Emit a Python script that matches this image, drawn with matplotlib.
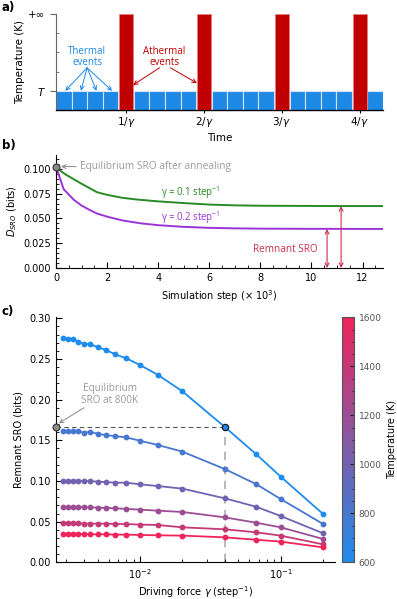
import numpy as np
import matplotlib
matplotlib.use("Agg")
import matplotlib.pyplot as plt
from matplotlib.colors import LinearSegmentedColormap, Normalize
from matplotlib.ticker import MultipleLocator, NullFormatter, FormatStrFormatter, FixedLocator

plt.rcParams['font.family'] = ['DejaVu Sans']
plt.rcParams['font.size'] = 7
plt.rcParams['mathtext.fontset'] = 'dejavusans'

ANN = ['Open Sans', 'DejaVu Sans']

# ---------------- data ----------------
# panel a: schedule (time in units of 1/gamma)
athermal_times = [1, 2, 3, 4]
thermal_times = [0.2, 0.4, 0.6, 0.8, 1.2, 1.4, 1.6, 1.8, 2.2, 2.4, 2.6, 2.8,
                 3.2, 3.4, 3.6, 3.8, 4.2]
thermal_level = 1      # T
athermal_level = 5     # +inf
a_xticklabels = [r'1/$\gamma$', r'2/$\gamma$', r'3/$\gamma$', r'4/$\gamma$']

# panel b: D_SRO vs simulation step (x 10^3)
steps_g01 = [0, 0.2, 0.4, 0.7, 1.0, 1.3, 1.6, 2.0, 2.6, 3.2, 4.0, 5.0, 6.0, 7.0,
             8.0, 9.0, 10.0, 11.0, 12.0, 12.8]
dsro_g01 = [0.1023, 0.0975, 0.0940, 0.0895, 0.0850, 0.0808, 0.0765, 0.0738,
            0.0708, 0.0690, 0.0672, 0.0655, 0.0640, 0.0632, 0.0628, 0.0627,
            0.0626, 0.0625, 0.0625, 0.0625]
steps_g02 = [0, 0.3, 0.7, 1.0, 1.3, 1.6, 2.0, 2.6, 3.3, 4.0, 5.0, 6.0, 7.0, 8.0,
             9.0, 10.0, 11.0, 12.0, 12.8]
dsro_g02 = [0.1023, 0.0795, 0.0687, 0.0630, 0.0588, 0.0550, 0.0518, 0.0480,
            0.0451, 0.0432, 0.0415, 0.0405, 0.0400, 0.0397, 0.0396, 0.0395,
            0.0395, 0.0394, 0.0394]
eq_sro_anneal = 0.1023
remnant_g01 = 0.0625
remnant_g02 = 0.0394

# panel c: remnant SRO vs driving force
gamma = [1/350, 1/325, 1/300, 1/275, 1/250, 1/225, 1/200, 1/175, 1/150, 1/125,
         1/100, 1/75, 1/50, 1/25, 1/15, 1/10, 1/5]
temperatures = [600, 800, 1000, 1200, 1400, 1600]
sro_600 = [0.2754, 0.2746, 0.2749, 0.2712, 0.2688, 0.2680, 0.2647, 0.2611, 0.2557,
           0.2508, 0.2426, 0.2307, 0.2103, 0.1665, 0.1332, 0.1053, 0.0594]
sro_800 = [0.1618, 0.1614, 0.1610, 0.1610, 0.1595, 0.1603, 0.1580, 0.1564, 0.1552,
           0.1536, 0.1495, 0.1443, 0.1361, 0.1147, 0.0963, 0.0778, 0.0471]
sro_1000 = [0.1003, 0.1003, 0.1003, 0.1003, 0.0999, 0.0999, 0.0991, 0.0987, 0.0979,
            0.0979, 0.0959, 0.0938, 0.0906, 0.0787, 0.0684, 0.0569, 0.0357]
sro_1200 = [0.0680, 0.0680, 0.0676, 0.0680, 0.0676, 0.0676, 0.0672, 0.0668, 0.0664,
            0.0656, 0.0648, 0.0635, 0.0619, 0.0553, 0.0487, 0.0430, 0.0287]
sro_1400 = [0.0480, 0.0480, 0.0480, 0.0480, 0.0475, 0.0475, 0.0475, 0.0475, 0.0471,
            0.0471, 0.0463, 0.0459, 0.0430, 0.0406, 0.0369, 0.0328, 0.0221]
sro_1600 = [0.0348, 0.0352, 0.0348, 0.0348, 0.0348, 0.0344, 0.0344, 0.0344, 0.0340,
            0.0340, 0.0336, 0.0332, 0.0328, 0.0307, 0.0278, 0.0254, 0.0184]
sro_series = [sro_600, sro_800, sro_1000, sro_1200, sro_1400, sro_1600]
eq_sro_800 = 0.1665
gamma_marked = 1/25

# ---------------- figure ----------------
W, H = 397, 599
fig = plt.figure(figsize=(W/100, H/100), dpi=100)

def ax_px(l, t, r, b):
    return fig.add_axes([l/W, 1 - b/H, (r - l)/W, (b - t)/H])

BLUE = '#1e88e5'
RED = '#c00000'
GRAY_T = '#9a9a9a'

# ---------- panel a ----------
axa = ax_px(56, 14, 383, 110)
axa.bar(thermal_times, [thermal_level]*len(thermal_times), width=0.2,
        color=BLUE, edgecolor='#cfe3fa', linewidth=0.8, zorder=2)
axa.bar(athermal_times, [athermal_level]*len(athermal_times), width=0.18,
        color=RED, edgecolor='#f08080', linewidth=0.5, zorder=3)
axa.set_xlim(0.1, 4.3)
axa.set_ylim(0, 5)
for s in ['top', 'right']:
    axa.spines[s].set_visible(False)
axa.spines['left'].set_color('#666666')
axa.spines['bottom'].set_linewidth(1.0)
axa.set_yticks([thermal_level, athermal_level])
axa.set_yticklabels([r'$T$', '+∞'])
axa.yaxis.set_minor_locator(FixedLocator([2, 3, 4]))
axa.set_xticks(athermal_times)
axa.set_xticklabels(a_xticklabels)
axa.xaxis.set_minor_locator(MultipleLocator(0.2))
axa.tick_params(axis='y', which='major', direction='out', length=4, labelsize=7.5, color='#666666')
axa.tick_params(axis='y', which='minor', direction='in', length=2.5, color='#666666')
axa.tick_params(axis='x', which='major', direction='inout', length=5, labelsize=7.5, pad=1)
axa.tick_params(axis='x', which='minor', direction='in', length=2.5)
axa.set_ylabel('Temperature (K)', fontsize=7.5, labelpad=2)
axa.set_xlabel('Time', fontsize=7.5, labelpad=3)

axa.text(0.5, 2.78, 'Thermal\nevents', color=BLUE, ha='center', va='center',
         fontsize=7, family=ANN, linespacing=1.0)
for tx in thermal_times[:4]:
    axa.annotate('', xy=(tx + 0.02, 1.0), xytext=(0.5, 2.2),
                 arrowprops=dict(arrowstyle='->', color=BLUE, lw=0.7,
                                 shrinkA=0, shrinkB=0))
axa.text(1.49, 2.78, 'Athermal\nevents', color=RED, ha='center', va='center',
         fontsize=7, family=ANN, linespacing=1.0)
axa.annotate('', xy=(1.09, 1.3), xytext=(1.43, 2.2),
             arrowprops=dict(arrowstyle='->', color=RED, lw=0.7, shrinkA=0, shrinkB=0))
axa.annotate('', xy=(1.91, 1.4), xytext=(1.57, 2.2),
             arrowprops=dict(arrowstyle='->', color=RED, lw=0.7, shrinkA=0, shrinkB=0))

# ---------- panel b ----------
axb = ax_px(56, 155, 383, 268)
axb.plot(steps_g01, dsro_g01, color='#2a8a25', lw=1.4)
axb.plot(steps_g02, dsro_g02, color='#9b35d6', lw=1.4)
axb.set_xlim(0, 12.8)
axb.set_ylim(0, 0.114)
for s in ['top', 'right']:
    axb.spines[s].set_visible(False)
axb.set_yticks([0, 0.025, 0.05, 0.075, 0.1])
axb.yaxis.set_major_formatter(FormatStrFormatter('%.3f'))
axb.yaxis.set_minor_locator(MultipleLocator(0.005))
axb.set_xticks([0, 2, 4, 6, 8, 10, 12])
axb.xaxis.set_minor_locator(MultipleLocator(0.5))
axb.tick_params(which='major', direction='in', length=4, labelsize=7)
axb.tick_params(which='minor', direction='in', length=2)
axb.set_xlabel(r'Simulation step ($\times$ 10$^3$)', fontsize=7, labelpad=4)
axb.set_ylabel(r'$D_{SRO}$ (bits)', fontsize=7, labelpad=3)
axb.plot([0], [eq_sro_anneal], 'o', ms=5, mfc='#8a8a8a', mec='#333333', mew=0.8,
         clip_on=False, zorder=5)
axb.annotate('Equilibrium SRO after annealing', xy=(0.2, eq_sro_anneal),
             xytext=(0.95, eq_sro_anneal), color=GRAY_T, fontsize=7.3, family=ANN,
             va='center', ha='left',
             arrowprops=dict(arrowstyle='->', color='#888888', lw=0.7,
                             shrinkA=1, shrinkB=0))
axb.text(4.1, 0.0765, r'γ = 0.1 step$^{\mathregular{-1}}$', color='#2a8a25', fontsize=6.9,
         family=ANN, ha='left', va='center')
axb.text(4.12, 0.0508, r'γ = 0.2 step$^{\mathregular{-1}}$', color='#9b35d6', fontsize=6.9,
         family=ANN, ha='left', va='center')
CR = '#c8304a'
axb.text(8.98, 0.019, 'Remnant SRO', color=CR, fontsize=7.2, family=ANN,
         ha='center', va='center')
axb.annotate('', xy=(10.61, remnant_g02), xytext=(10.61, 0),
             arrowprops=dict(arrowstyle='<->', color=CR, lw=0.8, shrinkA=0, shrinkB=0))
axb.annotate('', xy=(11.16, remnant_g01), xytext=(11.16, 0),
             arrowprops=dict(arrowstyle='<->', color=CR, lw=0.8, shrinkA=0, shrinkB=0))

# ---------- panel c ----------
cmap = LinearSegmentedColormap.from_list('bt', ['#1e8cec', '#f0245a'])
norm = Normalize(600, 1600)
axc = ax_px(56, 316.7, 335, 562.3)
axc.set_xscale('log')
for T, vals in zip(temperatures, sro_series):
    c = cmap(norm(T))
    axc.plot(gamma, vals, '-o', color=c, lw=1.3, ms=4.2, mew=0, zorder=3)
axc.set_xlim(10**-2.597, 10**-0.614)
axc.set_ylim(0, 0.302)
for s in ['top', 'right']:
    axc.spines[s].set_visible(False)
axc.set_yticks([0, 0.05, 0.1, 0.15, 0.2, 0.25, 0.3])
axc.yaxis.set_major_formatter(FormatStrFormatter('%.2f'))
axc.yaxis.set_minor_locator(MultipleLocator(0.01))
axc.xaxis.set_minor_formatter(NullFormatter())
axc.tick_params(which='major', direction='in', length=4, labelsize=7)
axc.tick_params(which='minor', direction='in', length=2)
axc.set_xlabel(r'Driving force $\gamma$ (step$^{-1}$)', fontsize=7, labelpad=2)
axc.set_ylabel('Remnant SRO (bits)', fontsize=7, labelpad=4)

x_left = axc.get_xlim()[0]
axc.plot([x_left, gamma_marked], [eq_sro_800, eq_sro_800], ls=(0, (4, 3)),
         color='#555555', lw=0.8, zorder=2)
axc.plot([gamma_marked, gamma_marked], [0, eq_sro_800], ls=(0, (4, 3)),
         color='#bbbbbb', lw=1.5, zorder=1)
axc.plot([gamma_marked], [eq_sro_800], 'o', ms=4.5, mfc=cmap(norm(600)),
         mec='#1a1a1a', mew=0.9, zorder=5)
axc.plot([x_left], [eq_sro_800], 'o', ms=5, mfc='#8a8a8a', mec='#333333', mew=0.8,
         clip_on=False, zorder=5)
axc.text(0.00612, 0.2063, 'Equilibrium\nSRO at 800K', color=GRAY_T, fontsize=7.2,
         family=ANN, ha='center', va='center', linespacing=1.15)
axc.annotate('', xy=(0.00265, 0.171), xytext=(0.0040, 0.190),
             arrowprops=dict(arrowstyle='->', color='#888888', lw=0.7,
                             shrinkA=0, shrinkB=0))

# colorbar
cax = ax_px(341.7, 317.3, 354, 562.3)
sm = matplotlib.cm.ScalarMappable(norm=norm, cmap=cmap)
cb = fig.colorbar(sm, cax=cax)
cb.set_ticks([600, 800, 1000, 1200, 1400, 1600])
cb.ax.yaxis.set_minor_locator(MultipleLocator(50))
cb.ax.tick_params(which='major', direction='in', length=3, labelsize=6.5,
                  labelcolor='#555555', color='#222222')
cb.ax.tick_params(which='minor', direction='in', length=1.5, color='#222222')
cb.outline.set_edgecolor('#555555')
cb.outline.set_linewidth(0.8)
cb.set_label('Temperature (K)', fontsize=7, labelpad=4)

# panel labels
for lab, y in [('a)', 8), ('b)', 145), ('c)', 311)]:
    fig.text(2/W, 1 - y/H, lab, fontsize=8.5, fontweight='bold', va='center', ha='left')

fig.savefig('out.png', dpi=100)
